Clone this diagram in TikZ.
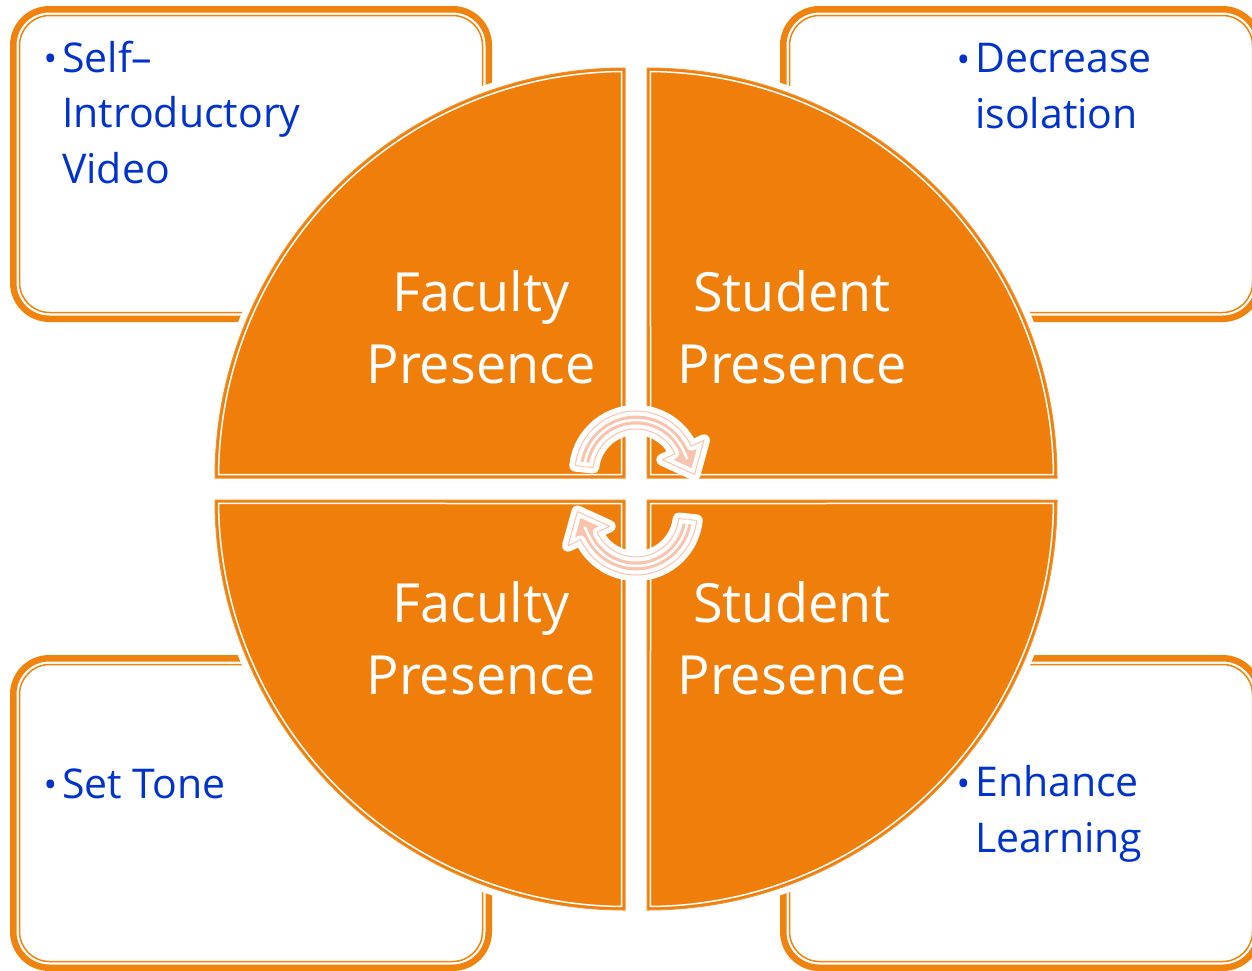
\documentclass[tikz,border=0pt]{standalone}
\usepackage{fontspec}
\setmainfont{Open Sans}
\usetikzlibrary{calc}
\definecolor{qorange}{RGB}{239,127,10}
\definecolor{borange}{RGB}{240,130,14}
\definecolor{tblue}{RGB}{0,51,204}
\definecolor{apink}{RGB}{248,196,174}
\tikzset{
 boxouter/.style={draw=borange, line width=6.5pt, rounded corners=36pt},
 boxinner/.style={draw=borange, line width=1.5pt, rounded corners=30pt},
 quadhalo/.style={draw=white, line width=14pt, line join=round},
 quadfill/.style={fill=qorange, draw=qorange!85!white, line width=1pt},
 quadinset/.style={draw=white, line width=1.5pt},
 quadtext/.style={text=white, align=center, font=\fontsize{54}{71.5}\selectfont, inner sep=0pt},
 bullettext/.style={text=tblue, align=left, font=\fontsize{41}{55.5}\selectfont, inner sep=0pt, anchor=base west},
 arrowhalo/.style={fill=white, draw=white, line width=12pt, line join=round},
 arrowbody/.style={fill=apink},
 arrowedge/.style={draw=white, line width=9pt, line join=round},
 arrowline/.style={draw=apink, line width=1pt, line join=round},
 arrowmid/.style={draw=white, line width=2.5pt},
}
\newcommand{\blt}{\llap{\raisebox{0.5pt}{\fontsize{36}{36}\selectfont •}\hspace{5pt}}}
\begin{document}
\begin{tikzpicture}[x=1pt,y=-1pt]
\useasboundingbox (0,0) rectangle (1252,970);
\clip (0,0) rectangle (1252,970);
% corner boxes
\draw[boxouter] (13.25,9.25) rectangle (488.75,318.75);
\draw[boxinner] (19.5,15.5) rectangle (482.5,312.5);
\draw[boxouter] (783.25,9.25) rectangle (1258.75,318.75);
\draw[boxinner] (789.5,15.5) rectangle (1252.5,312.5);
\draw[boxouter] (13.25,658.25) rectangle (488.75,967.75);
\draw[boxinner] (19.5,664.5) rectangle (482.5,961.5);
\draw[boxouter] (783.25,658.25) rectangle (1258.75,967.75);
\draw[boxinner] (789.5,664.5) rectangle (1252.5,961.5);
% quadrants
\foreach \sty in {quadhalo,quadfill}{
 \path[\sty] (625,478) -- (215,478) arc[start angle=180,end angle=270,radius=410] -- cycle;
 \path[\sty] (647,478) -- (647,68) arc[start angle=270,end angle=360,radius=410] -- cycle;
 \path[\sty] (625,500) -- (625,910) arc[start angle=90,end angle=180,radius=410] -- cycle;
 \path[\sty] (647,500) -- (1057,500) arc[start angle=0,end angle=90,radius=410] -- cycle;
}
\draw[quadinset] (621.5,474.5) -- ($(625,478)+(180.49:406.5)$) arc[start angle=180.49,end angle=269.51,radius=406.5] -- cycle;
\draw[quadinset] (650.5,474.5) -- ($(647,478)+(270.49:406.5)$) arc[start angle=270.49,end angle=359.51,radius=406.5] -- cycle;
\draw[quadinset] (621.5,503.5) -- ($(625,500)+(90.49:406.5)$) arc[start angle=90.49,end angle=179.51,radius=406.5] -- cycle;
\draw[quadinset] (650.5,503.5) -- ($(647,500)+(0.49:406.5)$) arc[start angle=0.49,end angle=89.51,radius=406.5] -- cycle;
% quadrant texts (anchor = baseline of last line)
\node[quadtext, anchor=base] (q1t) at (481,383) {Faculty\\Presence};
\node[quadtext, anchor=base] (q2t) at (792,383) {Student\\Presence};
\node[quadtext, anchor=base] (q3t) at (481,694) {Faculty\\Presence};
\node[quadtext, anchor=base] (q4t) at (792,694) {Student\\Presence};
% circular arrows
\coordinate (c1) at (636,472);
\coordinate (c2) at (636,514);
\foreach \sty in {arrowhalo,arrowbody,arrowedge,arrowline}{
 \path[\sty] ($(c1)+(186:61)$) arc[start angle=186,end angle=335,radius=61] -- ($(c1)+(335:75)$) -- ($(c1)+(335:52)+(65:27)$) -- ($(c1)+(335:29)$) -- ($(c1)+(335:43)$) arc[start angle=335,end angle=186,radius=43] -- cycle;
 \path[\sty] ($(c2)+(6:61)$) arc[start angle=6,end angle=155,radius=61] -- ($(c2)+(155:75)$) -- ($(c2)+(155:52)+(245:27)$) -- ($(c2)+(155:29)$) -- ($(c2)+(155:43)$) arc[start angle=155,end angle=6,radius=43] -- cycle;
}
\draw[arrowmid] ($(c1)+(186:52)$) arc[start angle=186,end angle=335,radius=52] -- ($(c1)+(335:52)+(65:10)$);
\draw[arrowmid] ($(c2)+(6:52)$) arc[start angle=6,end angle=155,radius=52] -- ($(c2)+(155:52)+(245:10)$);
% box texts (anchor = baseline of last line)
\node[bullettext] (tlt) at (62,183) {\blt Self–\\Introductory\\Video};
\node[bullettext] (trt) at (975,128) {\blt Decrease\\isolation};
\node[bullettext] (blt) at (62,798) {\blt Set Tone};
\node[bullettext] (brt) at (975,852) {\blt Enhance\\Learning};
\end{tikzpicture}
\end{document}
